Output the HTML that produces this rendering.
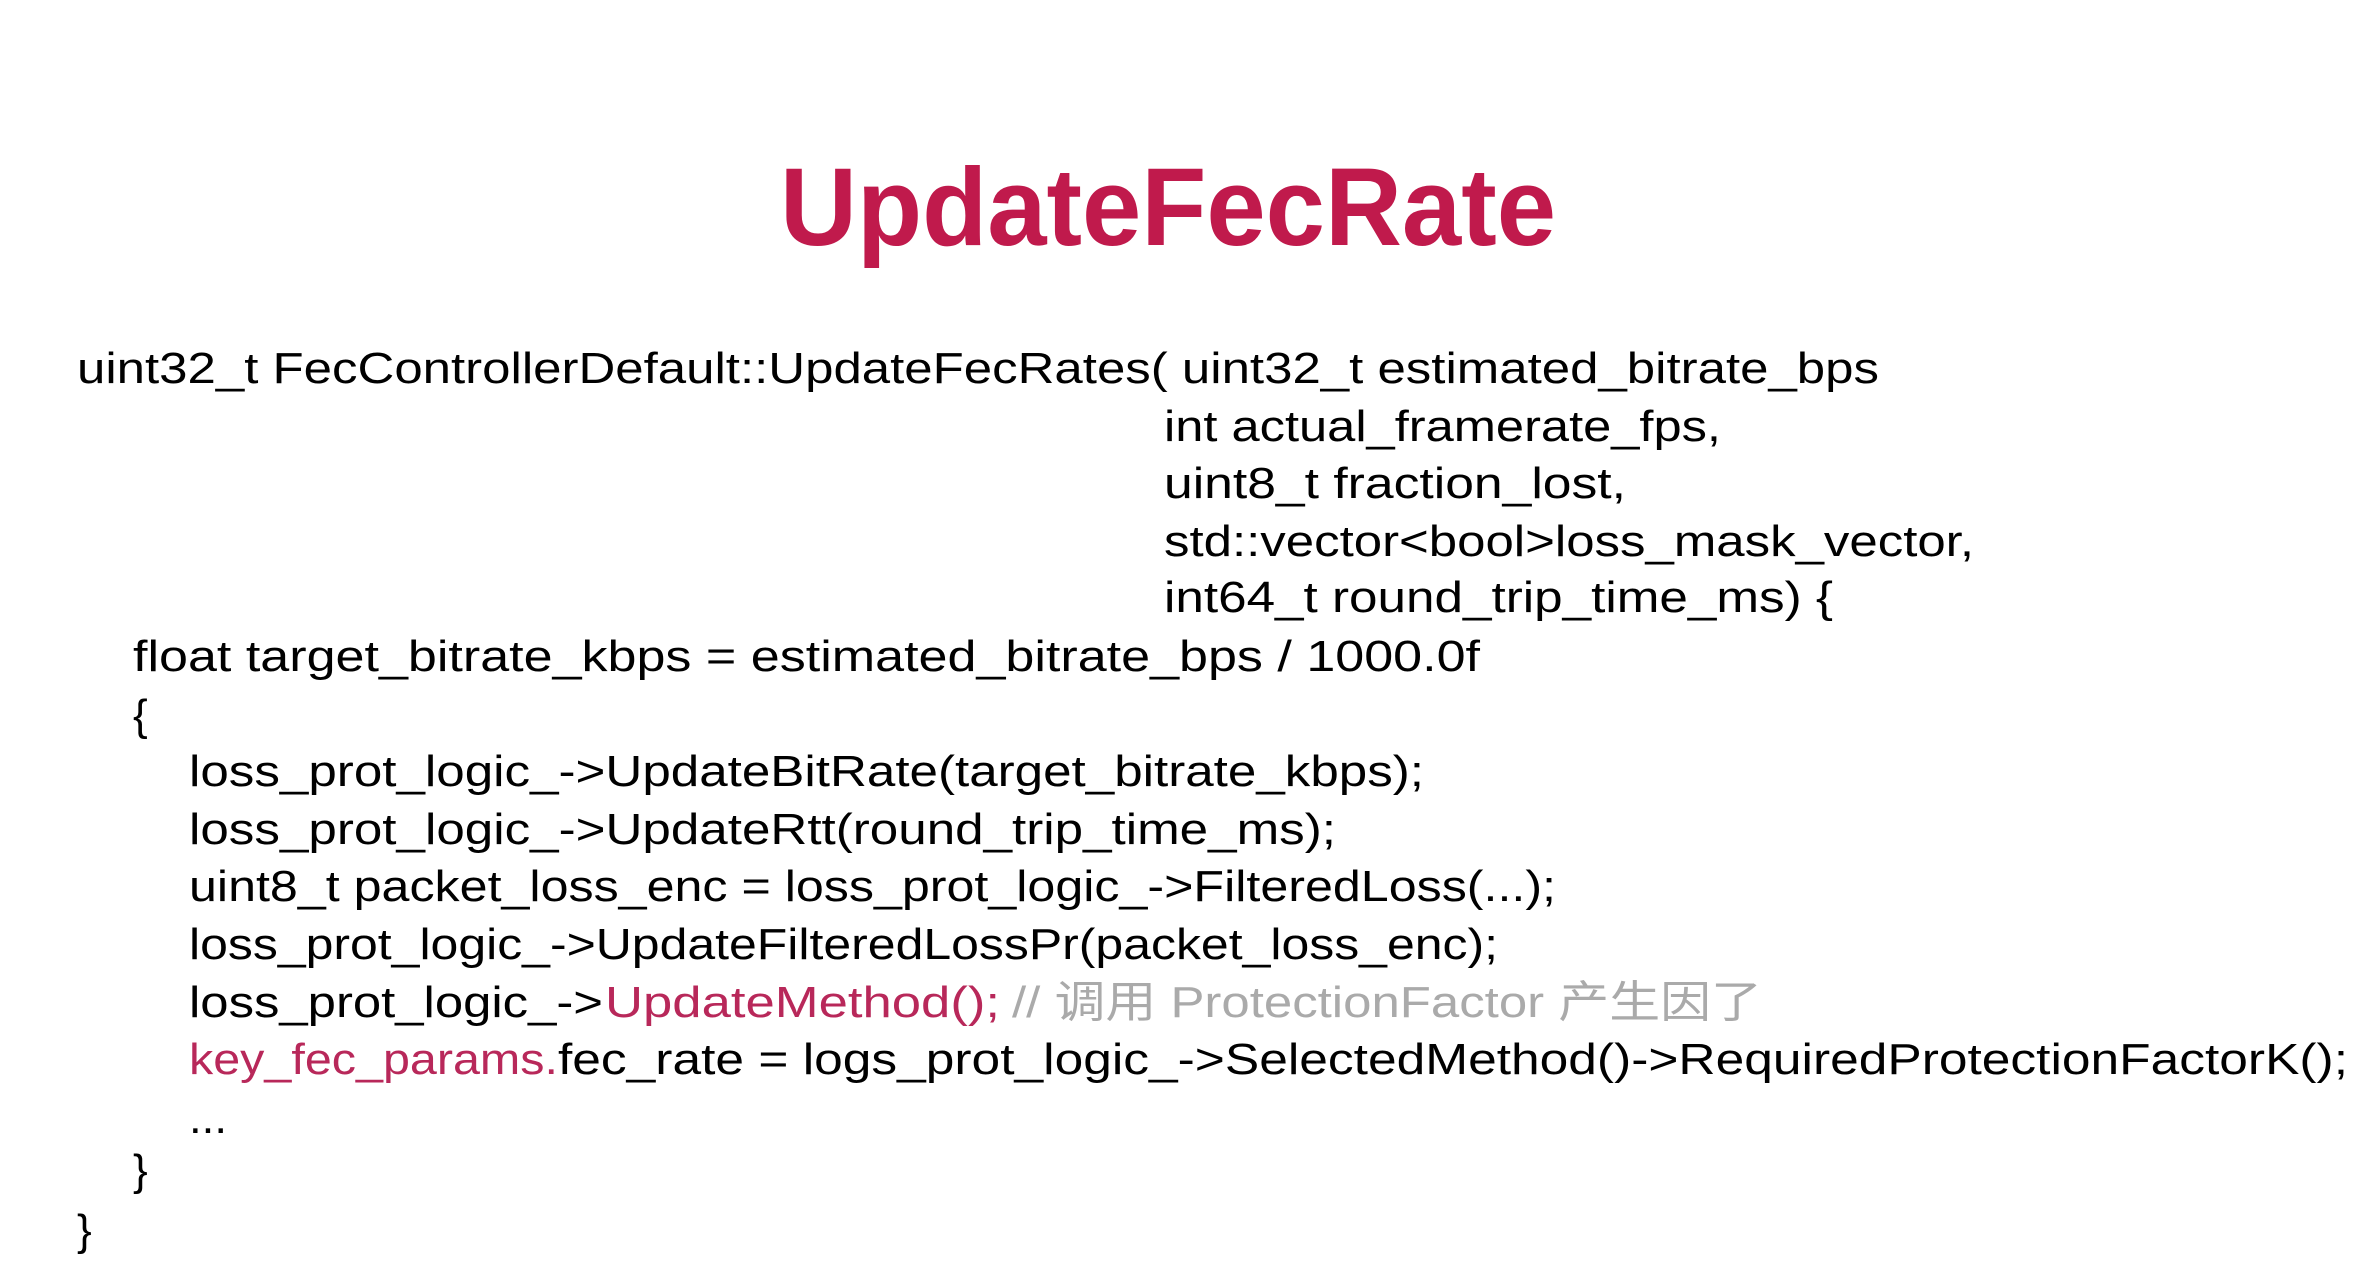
<!DOCTYPE html>
<html><head><meta charset="utf-8"><style>
html,body{margin:0;padding:0;background:#fff;}
svg{display:block;}
text{font-family:"Liberation Sans","Noto Sans CJK SC",sans-serif;fill:#000;}
</style></head><body>
<svg width="2376" height="1274" viewBox="0 0 2376 1274" xmlns="http://www.w3.org/2000/svg">
<rect width="2376" height="1274" fill="#fff"/>
<text x="780" y="245" font-size="110" font-weight="bold" style="fill:#c01a4c" textLength="776" lengthAdjust="spacingAndGlyphs">UpdateFecRate</text>
<g font-size="44">
<text x="77" y="383" textLength="1802" lengthAdjust="spacingAndGlyphs">uint32_t FecControllerDefault::UpdateFecRates( uint32_t estimated_bitrate_bps</text>
<text x="1164" y="441" textLength="557" lengthAdjust="spacingAndGlyphs">int actual_framerate_fps,</text>
<text x="1164" y="498" textLength="462" lengthAdjust="spacingAndGlyphs">uint8_t fraction_lost,</text>
<text x="1164" y="556" textLength="810" lengthAdjust="spacingAndGlyphs">std::vector&lt;bool&gt;loss_mask_vector,</text>
<text x="1164" y="612" textLength="669" lengthAdjust="spacingAndGlyphs">int64_t round_trip_time_ms) {</text>
<text x="133" y="671" textLength="1347" lengthAdjust="spacingAndGlyphs">float target_bitrate_kbps = estimated_bitrate_bps / 1000.0f</text>
<text x="133" y="730">{</text>
<text x="189" y="786" textLength="1235" lengthAdjust="spacingAndGlyphs">loss_prot_logic_-&gt;UpdateBitRate(target_bitrate_kbps);</text>
<text x="189" y="844" textLength="1147" lengthAdjust="spacingAndGlyphs">loss_prot_logic_-&gt;UpdateRtt(round_trip_time_ms);</text>
<text x="189" y="901" textLength="1367" lengthAdjust="spacingAndGlyphs">uint8_t packet_loss_enc = loss_prot_logic_-&gt;FilteredLoss(...);</text>
<text x="189" y="959" textLength="1309" lengthAdjust="spacingAndGlyphs">loss_prot_logic_-&gt;UpdateFilteredLossPr(packet_loss_enc);</text>
<text x="189" y="1017" textLength="414" lengthAdjust="spacingAndGlyphs">loss_prot_logic_-&gt;</text>
<text x="605" y="1017" style="fill:#b8285a" textLength="395" lengthAdjust="spacingAndGlyphs">UpdateMethod();</text>
<text x="1012" y="1017" style="fill:#aaaaaa" textLength="750" lengthAdjust="spacingAndGlyphs">// 调用 ProtectionFactor 产生因了</text>
<text x="189" y="1074" style="fill:#b8285a" textLength="369" lengthAdjust="spacingAndGlyphs">key_fec_params.</text>
<text x="558" y="1074" textLength="1790" lengthAdjust="spacingAndGlyphs">fec_rate = logs_prot_logic_-&gt;SelectedMethod()-&gt;RequiredProtectionFactorK();</text>
<text x="189" y="1133" textLength="38" lengthAdjust="spacingAndGlyphs">...</text>
<text x="133" y="1185">}</text>
<text x="77" y="1245">}</text>
</g>
</svg>
</body></html>
